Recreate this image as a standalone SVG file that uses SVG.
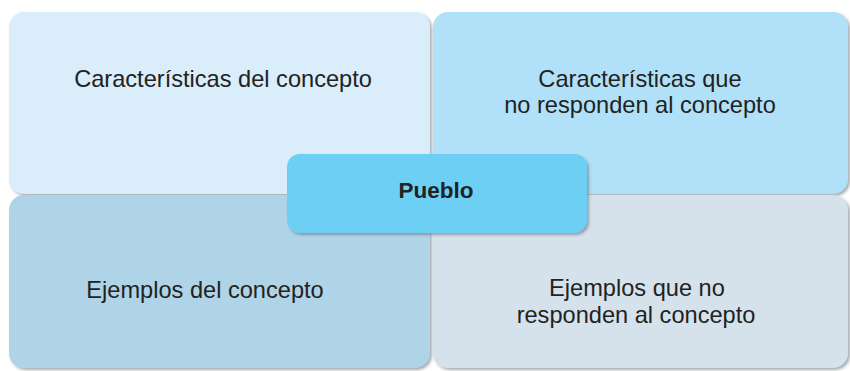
<svg xmlns="http://www.w3.org/2000/svg" width="850" height="371" viewBox="0 0 850 371">
<defs>
<filter id="sh" x="-5%" y="-5%" width="112%" height="115%">
<feDropShadow dx="2" dy="2" stdDeviation="1.5" flood-color="#5a6670" flood-opacity="0.55"/>
</filter>
</defs>
<style>
text{font-family:"Liberation Sans",Arial,sans-serif;font-size:23.6px;fill:#222;text-anchor:middle}
.b{font-weight:bold;font-size:22.5px}
</style>
<rect width="850" height="371" fill="#fff"/>
<g id="tl"><rect x="9" y="12" width="421" height="182" rx="15" fill="#d9eefa" filter="url(#sh)"/>
<text x="223" y="87">Características del concepto</text></g>
<g id="tr"><rect x="433" y="12" width="415" height="182" rx="15" fill="#b1e1f8" filter="url(#sh)"/>
<text x="640" y="87">Características que</text><text x="640" y="113">no responden al concepto</text></g>
<g id="bl"><rect x="9" y="195" width="421" height="173" rx="15" fill="#b0d4e7" filter="url(#sh)"/>
<text x="205" y="298">Ejemplos del concepto</text></g>
<g id="br"><rect x="433" y="195" width="415" height="173" rx="15" fill="#d6e2eb" filter="url(#sh)"/>
<text x="637" y="296">Ejemplos que no</text><text x="636" y="323">responden al concepto</text></g>
<g id="center"><rect x="287" y="154" width="300" height="79" rx="13" fill="#6ecff5" filter="url(#sh)"/>
<text class="b" x="436" y="198">Pueblo</text></g>
<g id="connectors"></g>
</svg>
